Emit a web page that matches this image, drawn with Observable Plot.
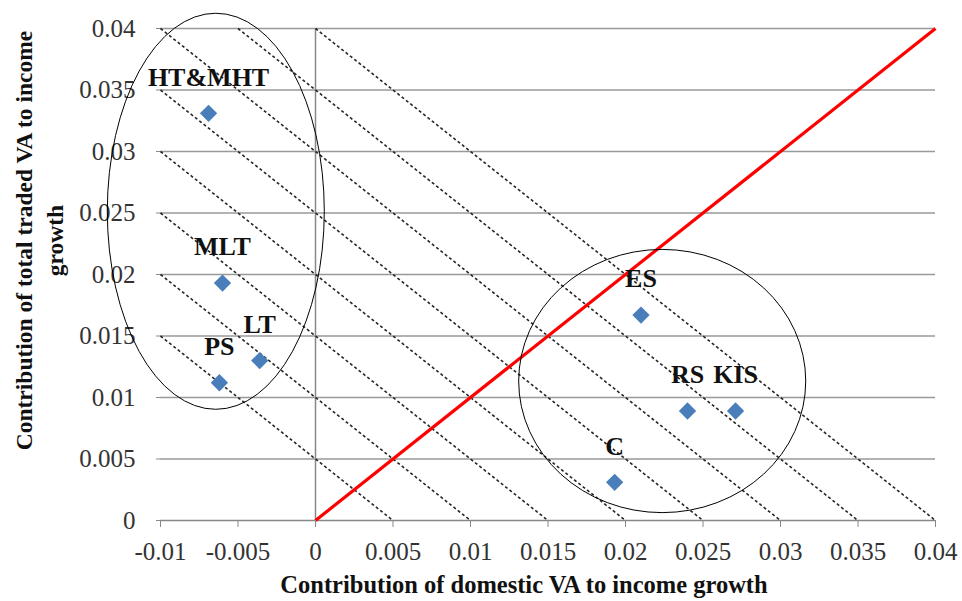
<!DOCTYPE html>
<html><head><meta charset="utf-8">
<script src="https://cdn.jsdelivr.net/npm/d3@7"></script>
<script src="https://cdn.jsdelivr.net/npm/@observablehq/plot@0.6"></script>
<style>
body{margin:0;background:#fff}
#chart svg, #chart svg text { font-family: "Liberation Serif", "Times New Roman", "DejaVu Serif", serif !important; }
</style>
</head><body><div id="chart"></div>
<script>
// Data
const labels = ["HT&MHT", "MLT", "LT", "PS", "ES", "RS", "KIS", "C"];
const domesticVA = [-0.0069, -0.0060, -0.0036, -0.0062, 0.0210, 0.0240, 0.0271, 0.0193];
const tradedVA = [0.0331, 0.0193, 0.0130, 0.0112, 0.0167, 0.0089, 0.0089, 0.0031];
const xTicks = [-0.01, -0.005, 0, 0.005, 0.01, 0.015, 0.02, 0.025, 0.03, 0.035, 0.04];
const yTicks = [0, 0.005, 0.01, 0.015, 0.02, 0.025, 0.03, 0.035, 0.04];
const isoLevels = [0.005, 0.01, 0.015, 0.02, 0.025, 0.03, 0.035, 0.04];
const diagonal = [{x1: 0, y1: 0, x2: 0.04, y2: 0.04}];
const ellipses = [
  {cx: -0.0064, cy: 0.0251, rx: 0.0070, ry: 0.0161},
  {cx: 0.0224, cy: 0.0113, rx: 0.00926, ry: 0.0107}
];
const xTitle = "Contribution of domestic VA to income growth";
const yTitle = "Contribution of total traded VA to income\ngrowth";

const xDomain = [-0.01, 0.04], yDomain = [0, 0.04];
const points = labels.map((label, i) => ({label, x: domesticVA[i], y: tradedVA[i]}));
const isoLines = isoLevels.map(c => {
  const x1 = Math.max(xDomain[0], c - yDomain[1]);
  return {x1, y1: c - x1, x2: c, y2: 0};
});

const serif = "Liberation Serif";

const ellipseMark = (index, scales) => {
  const g = d3.create("svg:g").attr("fill", "none").attr("stroke", "#000").attr("stroke-width", 1);
  for (const e of ellipses) {
    const cx = scales.x(e.cx), cy = scales.y(e.cy);
    const rx = Math.abs(scales.x(e.cx + e.rx) - cx), ry = Math.abs(scales.y(e.cy + e.ry) - cy);
    g.append("ellipse").attr("cx", cx).attr("cy", cy).attr("rx", rx).attr("ry", ry);
  }
  return g.node();
};

const chart = Plot.plot({
  width: 962,
  height: 601,
  marginLeft: 160,
  marginRight: 27,
  marginTop: 28,
  marginBottom: 81,
  style: {"font-family": serif, "background": "#fff", "color": "#333"},
  x: {domain: xDomain},
  y: {domain: yDomain},
  marks: [
    Plot.ruleY(yTicks.filter(d => d > 0), {x1: xDomain[0], x2: xDomain[1], stroke: "#999", strokeWidth: 1.5}),
    Plot.ruleY([0], {x1: xDomain[0], x2: xDomain[1], stroke: "#888", strokeWidth: 1.5}),
    Plot.ruleX([0], {y1: yDomain[0], y2: yDomain[1], stroke: "#888", strokeWidth: 1.5}),
    Plot.link(isoLines, {x1: "x1", y1: "y1", x2: "x2", y2: "y2", stroke: "#262626", strokeWidth: 1.6, strokeDasharray: "3,2.5"}),
    Plot.link(diagonal, {x1: "x1", y1: "y1", x2: "x2", y2: "y2", stroke: "#ff0000", strokeWidth: 3.2}),
    Plot.axisX({ticks: xTicks, tickFormat: d => String(d), tickSize: 7, tickPadding: 15, fontSize: 25, stroke: "#888", fill: "#333", label: null}),
    Plot.axisY({ticks: yTicks, tickFormat: d => String(d), tickSize: 4, tickPadding: 21, fontSize: 25, stroke: "#888", fill: "#333", label: null}),
    Plot.dot(points, {x: "x", y: "y", symbol: "diamond2", r: 7.8, fill: "#4a7ebb", stroke: null}),
    Plot.text(points, {x: "x", y: "y", text: "label", dy: -36, fontSize: 26, fontWeight: "bold", fill: "#111"}),
    ellipseMark,
    Plot.text([xTitle], {frameAnchor: "bottom", text: d => d, textAnchor: "middle", dx: -24, dy: 72, fontSize: 24.5, fontWeight: "bold", fill: "#111"}),
    Plot.text([yTitle], {frameAnchor: "left", text: d => d, textAnchor: "middle", dx: -123, dy: -34, rotate: -90, lineHeight: 1.3, fontSize: 23.5, fontWeight: "bold", fill: "#111"})
  ]
});
document.getElementById("chart").appendChild(chart);
</script>
</body></html>
